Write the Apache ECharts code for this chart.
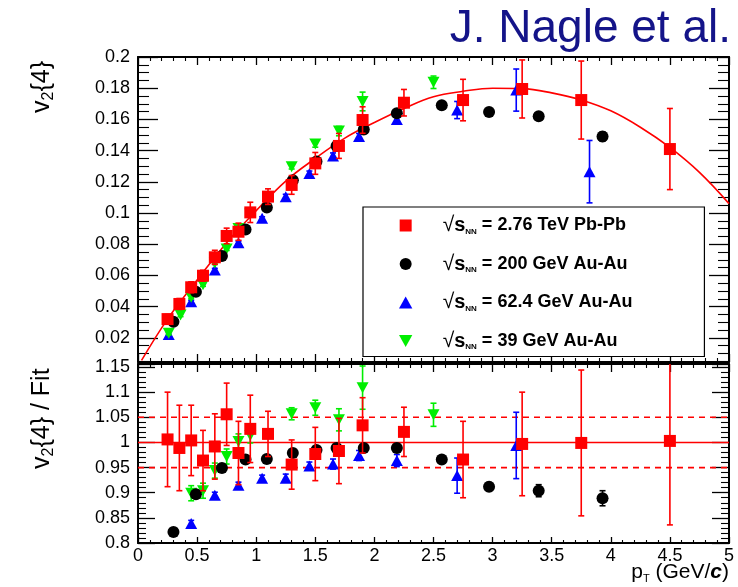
<!DOCTYPE html>
<html><head><meta charset="utf-8">
<script src="https://cdn.jsdelivr.net/npm/echarts@6/dist/echarts.min.js"></script>
<style>html,body{margin:0;padding:0;background:#fff}#c{width:738px;height:587px}</style>
</head><body><div id="c"></div>
<script>
// ---- data ----
const xTicks = [0,0.5,1,1.5,2,2.5,3,3.5,4,4.5,5];

const redPt   = [0.25,0.35,0.45,0.55,0.65,0.75,0.85,0.95,1.1,1.3,1.5,1.7,1.9,2.25,2.75,3.25,3.75,4.5];
const redV    = [0.032,0.0417,0.0524,0.0598,0.0716,0.0853,0.088,0.1004,0.1105,0.118,0.1318,0.143,0.1596,0.1707,0.1724,0.1795,0.1724,0.141];
const redErr  = [0.003,0.0035,0.0035,0.0035,0.0045,0.005,0.0055,0.0065,0.005,0.006,0.007,0.008,0.0085,0.0085,0.0133,0.0186,0.025,0.026];
const redR    = [1.006,0.989,1.004,0.964,0.992,1.056,0.979,1.027,1.017,0.956,0.977,0.983,1.034,1.021,0.966,0.997,0.999,1.003];
const redRErr = [0.094,0.085,0.07,0.06,0.065,0.062,0.063,0.067,0.045,0.049,0.053,0.065,0.055,0.049,0.076,0.103,0.145,0.167];

const blkPt   = [0.30,0.49,0.71,0.91,1.09,1.31,1.51,1.68,1.91,2.19,2.57,2.97,3.39,3.93];
const blkV    = [0.0303,0.0496,0.0724,0.0895,0.1036,0.121,0.133,0.143,0.1536,0.1639,0.169,0.1647,0.162,0.149];
const blkErr  = [0.0005,0.0005,0.0005,0.0005,0.0005,0.0005,0.0005,0.0006,0.0008,0.001,0.0013,0.0015,0.0022,0.003];
const blkR    = [0.822,0.897,0.949,0.966,0.967,0.979,0.985,0.989,0.989,0.989,0.966,0.912,0.904,0.889];
const blkRErr = [0.004,0.004,0.004,0.004,0.004,0.004,0.004,0.005,0.005,0.006,0.007,0.008,0.012,0.015];

const bluPt   = [0.26,0.45,0.65,0.85,1.05,1.25,1.45,1.65,1.87,2.19,2.70,3.2,3.82];
const bluV    = [0.0222,0.0431,0.0635,0.081,0.0966,0.1105,0.1254,0.1365,0.149,0.160,0.166,0.1788,0.1265];
const bluErr  = [0.001,0.001,0.001,0.001,0.001,0.0015,0.0015,0.002,0.002,0.003,0.0055,0.0135,0.02];
const bluR    = [null,0.839,0.895,0.915,0.929,0.929,0.953,0.957,0.974,0.964,0.934,0.994,null];
const bluRErr = [0,0.006,0.006,0.006,0.006,0.008,0.008,0.01,0.01,0.012,0.035,0.066,0];

const grnPt   = [0.26,0.36,0.45,0.55,0.65,0.75,0.85,0.95,1.3,1.5,1.7,1.9,2.5];
const grnV    = [0.0229,0.0346,0.046,0.054,0.068,0.077,0.090,0.0994,0.1297,0.1442,0.1525,0.1715,0.1838];
const grnErr  = [0.001,0.001,0.001,0.001,0.001,0.001,0.0012,0.0013,0.0015,0.002,0.003,0.006,0.004];
const grnR    = [null,null,0.899,0.904,0.944,0.972,1.002,1.014,1.057,1.069,1.045,1.109,1.055];
const grnRErr = [0,0,0.015,0.015,0.015,0.015,0.015,0.015,0.012,0.015,0.022,0.043,0.023];

const fitPt = [0.03,0.25,0.5,0.75,1.0,1.25,1.5,1.75,2.0,2.25,2.5,2.75,3.0,3.25,3.5,3.75,4.0,4.25,4.5,4.75,5.0];
const fitV  = [0.0055,0.032,0.057,0.081,0.1015,0.1205,0.135,0.148,0.158,0.167,0.1745,0.178,0.180,0.1797,0.177,0.1725,0.1655,0.155,0.142,0.126,0.106];

const refLineY  = [1.0];
const bandLineY = [0.95,1.05];

const names = ['2.76 TeV Pb-Pb','200 GeV Au-Au','62.4 GeV Au-Au','39 GeV Au-Au'];
const colors = ['#ff0000','#000000','#0000ff','#00ee00'];

// ---- helpers ----
function zip(xs, ys, es){ const o=[]; for(let i=0;i<xs.length;i++){ if(ys[i]==null) continue; o.push(es?[xs[i],ys[i],es[i]]:[xs[i],ys[i]]); } return o; }
function errSeries(name, data, color, xi, yi, cap, z){
  return { name, type:'custom', xAxisIndex:xi, yAxisIndex:yi, data, clip:true, z,
    itemStyle:{color}, encode:{x:0,y:1}, silent:true,
    renderItem:function(params, api){
      const x=api.value(0), y=api.value(1), e=api.value(2);
      if(!e) return null;
      const lo=api.coord([x,y-e]), hi=api.coord([x,y+e]);
      const st={stroke:color,lineWidth:1.6};
      return {type:'group',children:[
        {type:'line',shape:{x1:lo[0],y1:lo[1],x2:hi[0],y2:hi[1]},style:st},
        {type:'line',shape:{x1:lo[0]-cap,y1:lo[1],x2:lo[0]+cap,y2:lo[1]},style:st},
        {type:'line',shape:{x1:hi[0]-cap,y1:hi[1],x2:hi[0]+cap,y2:hi[1]},style:st}
      ]};
    }};
}
const downTri = 'path://M0,0 L10,0 L5,9 Z';
const upTri = 'path://M5,0 L10,9 L0,9 Z';
const square = 'path://M0,0 L10,0 L10,10 L0,10 Z';
function scat(name, data, color, symbol, size, xi, yi, z){
  return {name, type:'scatter', xAxisIndex:xi, yAxisIndex:yi, data, symbol, symbolSize:size,
    itemStyle:{color, opacity:1}, z, clip:true, silent:true};
}

const font = 'Liberation Sans, Arial, Helvetica, sans-serif';

function xAx(grid, pos, labels, majorLen, minorLen){
  return {type:'value', gridIndex:grid, position:pos, min:0, max:5, interval:0.5,
    axisLine:{show:true, onZero:false, lineStyle:{color:'#000',width:2}},
    axisTick:{show:true, inside:true, length:majorLen, lineStyle:{color:'#000',width:1.3}},
    minorTick:{show:true, splitNumber:5, length:minorLen, lineStyle:{color:'#000',width:1.1}},
    splitLine:{show:false},
    axisLabel:{show:labels, margin:4, color:'#000', fontSize:18, fontFamily:font,
      formatter:v=>String(+v.toFixed(2))}};
}
function yAx(grid, pos, labels, min, max, opts, majorLen, minorLen, split, fmt){
  return Object.assign({type:'value', gridIndex:grid, position:pos, min, max, scale:true,
    axisLine:{show:true, onZero:false, lineStyle:{color:'#000',width:2}},
    axisTick:{show:true, inside:true, length:majorLen, lineStyle:{color:'#000',width:1.3}},
    minorTick:{show:true, splitNumber:split, length:minorLen, lineStyle:{color:'#000',width:1.1}},
    splitLine:{show:false},
    axisLabel:{show:labels, margin:8, color:'#000', fontSize:18, fontFamily:font, formatter:fmt}}, opts);
}
function onStep(v, step){ const k=v/step; return Math.abs(k-Math.round(k))<1e-6; }

const chart = echarts.init(document.getElementById('c'), null, {renderer:'canvas'});

const sqrtLabel = '{r|√}{s|s}{n|NN}{t| = ';
const legendIcons = [square,'circle',upTri,downTri];
const option = {
  backgroundColor:'#fff',
  animation:false,
  title:{text:'J. Nagle et al.', right:2, top:1,
    textStyle:{color:'#141489', fontSize:46, fontWeight:'normal', fontFamily:font}},
  grid:[
    {left:138, top:57, width:591, height:305, containLabel:false},
    {left:138, top:364, width:591, height:179, containLabel:false}
  ],
  xAxis:[
    xAx(0,'bottom',false,8,4),
    xAx(0,'top',false,8,4),
    xAx(1,'bottom',true,6,3),
    xAx(1,'top',false,8,4)
  ],
  yAxis:[
    yAx(0,'left',true,0.0045,0.2,{splitNumber:10},20,11,4, v=> (onStep(v,0.02)&&v>0.01)? String(+v.toFixed(2)) : ''),
    yAx(0,'right',false,0.0045,0.2,{splitNumber:10},20,11,4, v=>''),
    yAx(1,'left',true,0.8,1.156,{interval:0.05},17,8,5, v=> (onStep(v,0.05)&&v<1.153)? String(+v.toFixed(2)) : ''),
    yAx(1,'right',false,0.8,1.156,{interval:0.05},17,8,5, v=>'')
  ],
  legend:{
    data: names.map((n,i)=>({name:n, icon:legendIcons[i], itemStyle:{color:colors[i]}})),
    orient:'vertical', left:363, top:207,
    itemWidth:64, itemHeight:12, itemGap:17.5,
    padding:[8,72,5,36],
    borderColor:'#000', borderWidth:1.2, backgroundColor:'#fff',
    selectedMode:false, z:10,
    formatter: n => sqrtLabel + n + '}',
    textStyle:{color:'#000', fontSize:18, fontFamily:font, fontWeight:'bold', lineHeight:20,
      rich:{
        r:{fontSize:21, fontFamily:font, color:'#000', fontWeight:'normal', lineHeight:20},
        s:{fontSize:20, fontFamily:font, color:'#000', fontWeight:'bold', lineHeight:20},
        n:{fontSize:8, fontFamily:font, color:'#000', fontWeight:'bold', verticalAlign:'bottom', lineHeight:10, padding:[7,0,0,0]},
        t:{fontSize:18, fontFamily:font, color:'#000', fontWeight:'bold', lineHeight:20}
      }}
  },
  graphic:[
    {type:'text', x:42, y:113, rotation:Math.PI/2, z:20,
      style:{text:'v{b|2}{4}', fontSize:25, fontFamily:font, fill:'#000', align:'left', verticalAlign:'middle',
        rich:{b:{fontSize:16, fontFamily:font, fill:'#000', padding:[13,0,0,0]}}}},
    {type:'text', x:42, y:469, rotation:Math.PI/2, z:20,
      style:{text:'v{b|2}{4} / Fit', fontSize:25, fontFamily:font, fill:'#000', align:'left', verticalAlign:'middle',
        rich:{b:{fontSize:16, fontFamily:font, fill:'#000', padding:[13,0,0,0]}}}},
    {type:'text', right:9, top:562, z:20,
      style:{text:'p{b|T} (GeV/{c|c})', fontSize:21, fontFamily:font, fill:'#000',
        rich:{b:{fontSize:11, fontFamily:font, fill:'#000', padding:[13,0,0,0]},
              c:{fontSize:21, fontFamily:font, fill:'#000', fontWeight:'bold', fontStyle:'italic'}}}}
  ],
  series:[
    {name:'fit', type:'line', xAxisIndex:0, yAxisIndex:0, data:zip(fitPt,fitV), smooth:0.4, symbol:'none',
      lineStyle:{color:'#ff0000', width:1.6}, clip:true, z:2, silent:true},
    {name:'ref', type:'line', xAxisIndex:2, yAxisIndex:2, data:[[0,refLineY[0]],[5,refLineY[0]]], symbol:'none',
      lineStyle:{color:'#ff0000', width:1.6}, z:2, silent:true},
    {name:'band1', type:'line', xAxisIndex:2, yAxisIndex:2, data:[[0,bandLineY[0]],[5,bandLineY[0]]], symbol:'none',
      lineStyle:{color:'#ff0000', width:1.6, type:[6,5]}, z:2, silent:true},
    {name:'band2', type:'line', xAxisIndex:2, yAxisIndex:2, data:[[0,bandLineY[1]],[5,bandLineY[1]]], symbol:'none',
      lineStyle:{color:'#ff0000', width:1.6, type:[6,5]}, z:2, silent:true},

    errSeries(names[2], zip(bluPt,bluV,bluErr), colors[2], 0,0,3,3),
    scat(names[2], zip(bluPt,bluV), colors[2], upTri, [12,11], 0,0,4),
    errSeries(names[3], zip(grnPt,grnV,grnErr), colors[3], 0,0,3,5),
    scat(names[3], zip(grnPt,grnV), colors[3], downTri, [12,11], 0,0,6),
    errSeries(names[1], zip(blkPt,blkV,blkErr), colors[1], 0,0,3,7),
    scat(names[1], zip(blkPt,blkV), colors[1], 'circle', 12, 0,0,8),
    errSeries(names[0], zip(redPt,redV,redErr), colors[0], 0,0,3,9),
    scat(names[0], zip(redPt,redV), colors[0], 'rect', 12, 0,0,10),

    errSeries(names[2], zip(bluPt,bluR,bluRErr), colors[2], 2,2,3,3),
    scat(names[2], zip(bluPt,bluR), colors[2], upTri, [12,11], 2,2,4),
    errSeries(names[3], zip(grnPt,grnR,grnRErr), colors[3], 2,2,3,5),
    scat(names[3], zip(grnPt,grnR), colors[3], downTri, [12,11], 2,2,6),
    errSeries(names[1], zip(blkPt,blkR,blkRErr), colors[1], 2,2,3,7),
    scat(names[1], zip(blkPt,blkR), colors[1], 'circle', 12, 2,2,8),
    errSeries(names[0], zip(redPt,redR,redRErr), colors[0], 2,2,3,9),
    scat(names[0], zip(redPt,redR), colors[0], 'rect', 12, 2,2,10)
  ]
};
chart.setOption(option);
</script></body></html>
